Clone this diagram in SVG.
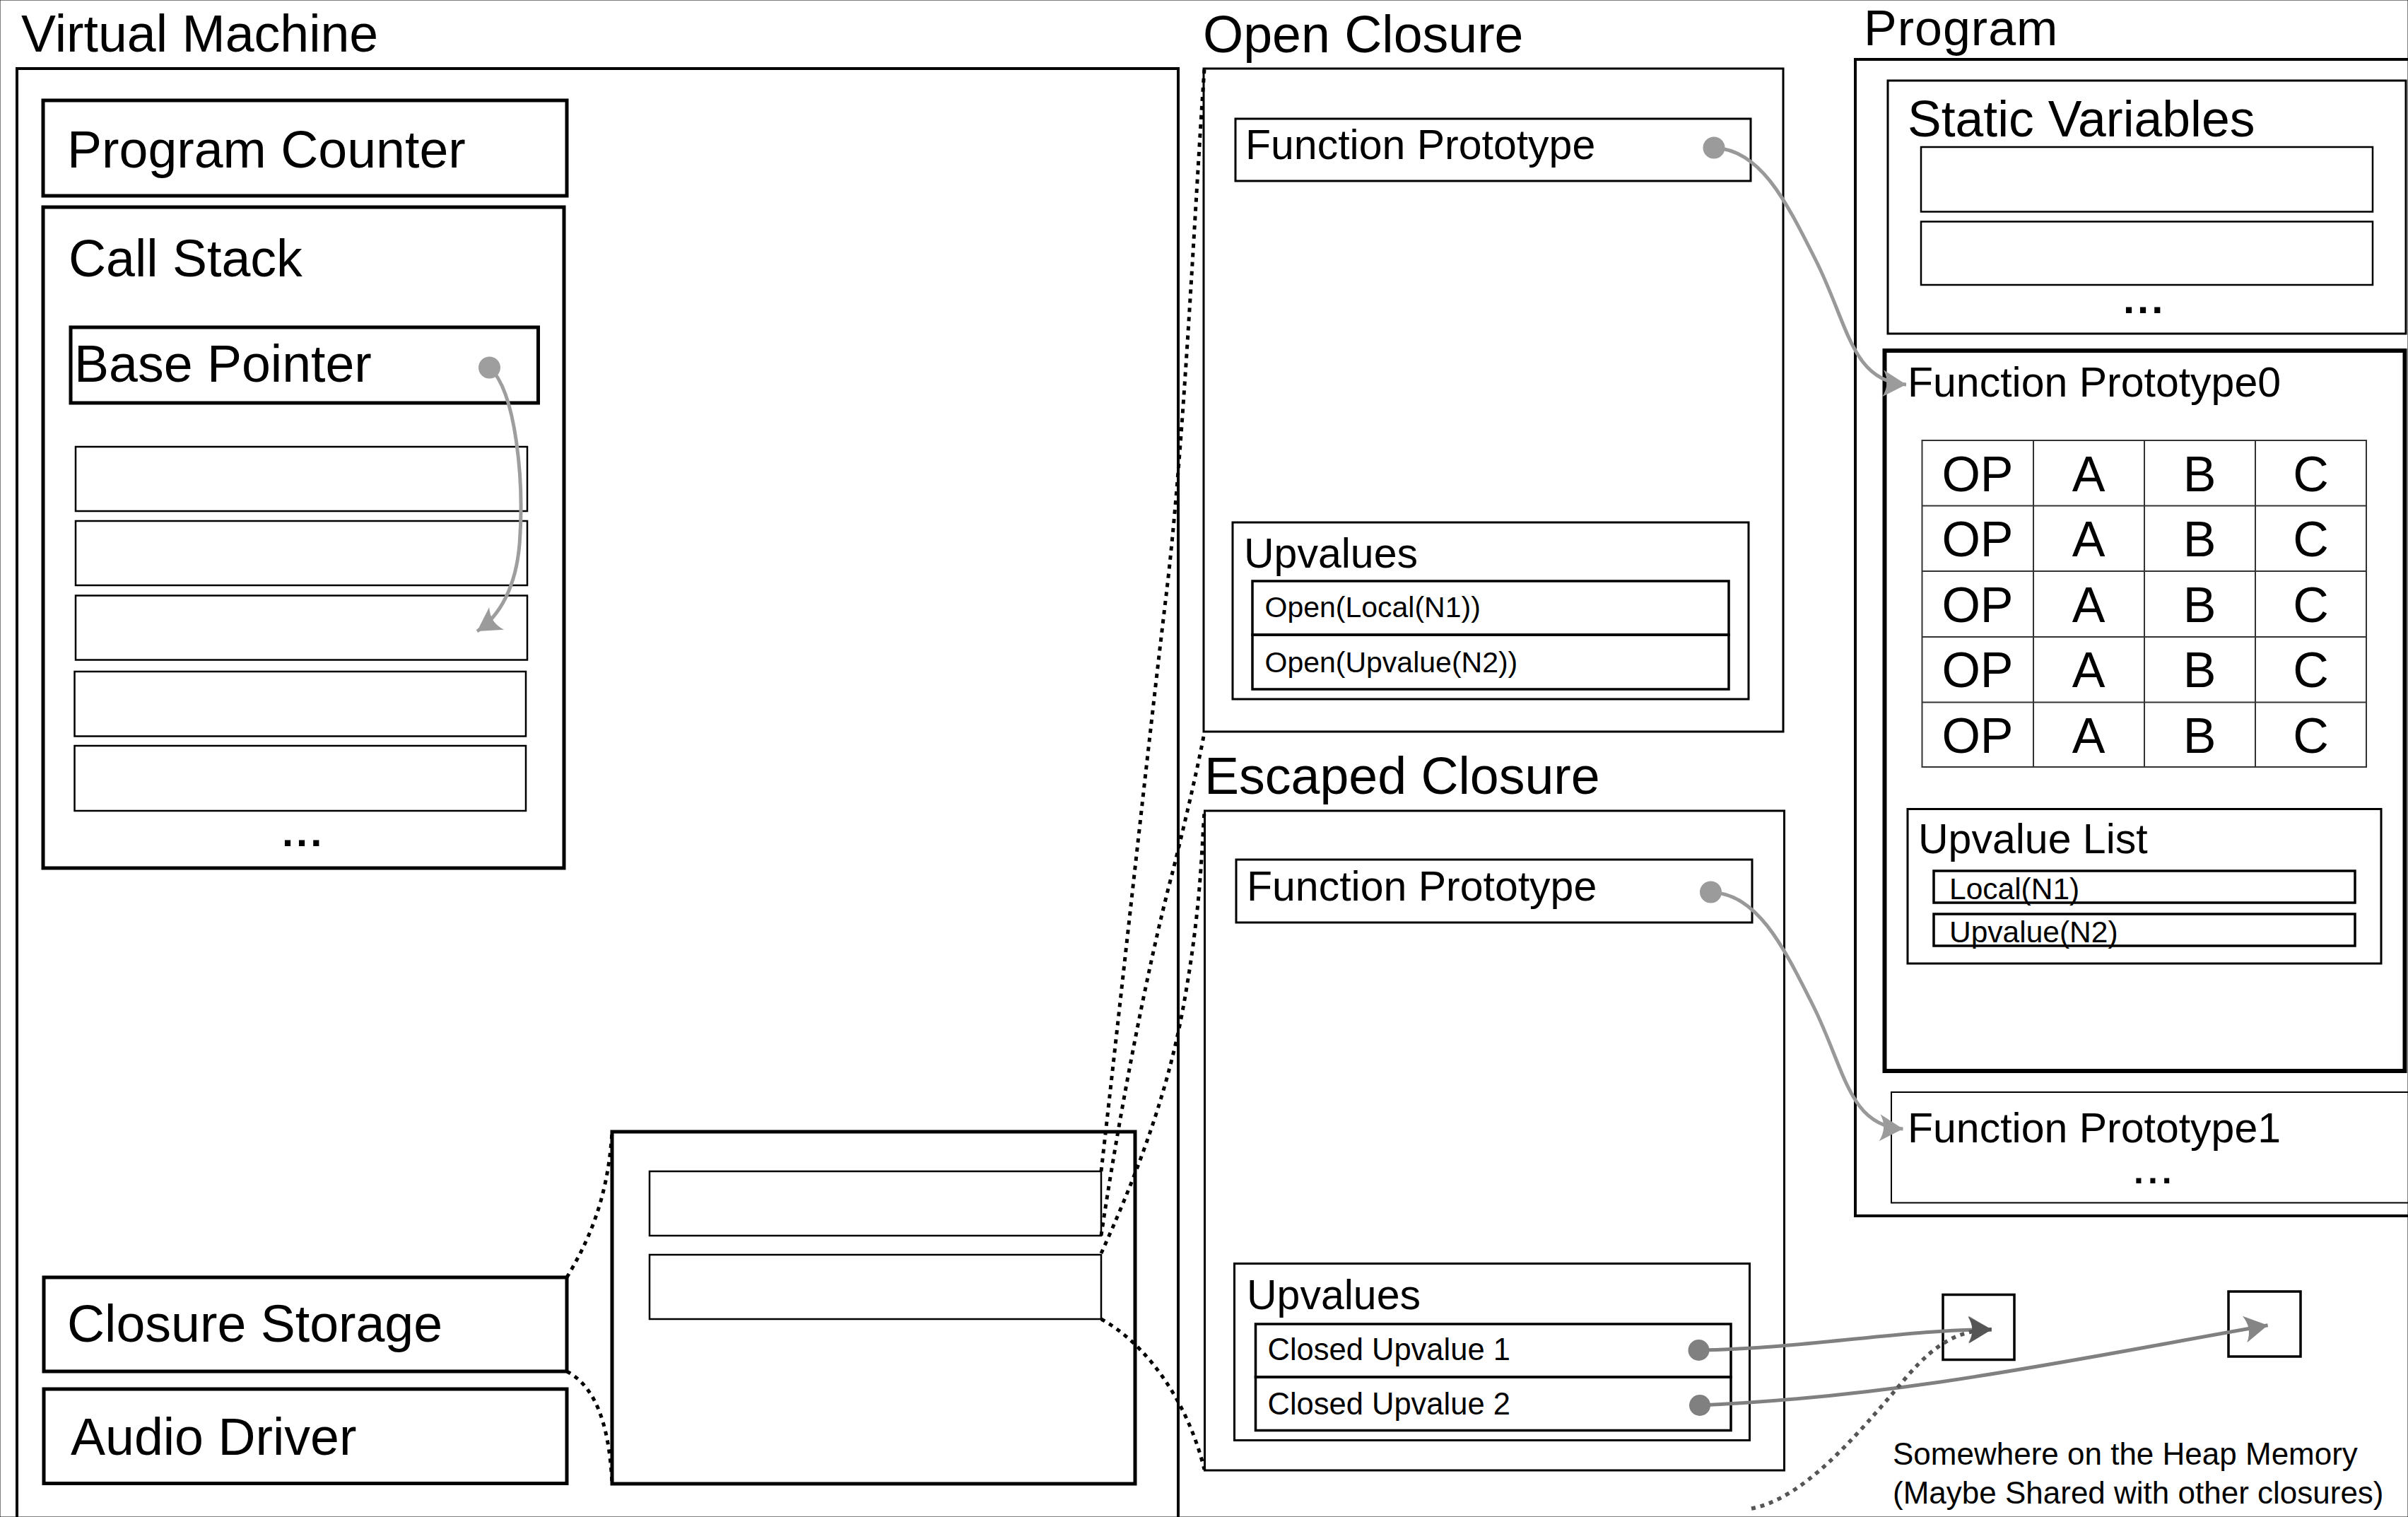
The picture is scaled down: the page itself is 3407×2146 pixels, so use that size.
<svg xmlns="http://www.w3.org/2000/svg" width="3407" height="2146" viewBox="0 0 3407 2146">
  <defs>
    <style>
      text { font-family: "Liberation Sans", Arial, Helvetica, sans-serif; fill: #000; }
      .title { font-size: 73.5px; }
      .label { font-size: 59px; }
      .cell { font-size: 70px; text-anchor: middle; }
      .dots { font-size: 58px; font-weight: bold; letter-spacing: 4px; }
      rect { fill: none; stroke: #000; }
      .s2 { stroke-width: 2; }
      .s25 { stroke-width: 2.5; }
      .s3 { stroke-width: 3; }
      .s35 { stroke-width: 3.5; }
      .s4 { stroke-width: 4; }
      .s5 { stroke-width: 5; }
      .s6 { stroke-width: 6; }
      .grid { stroke: #333; stroke-width: 2; fill: none; }
      .zoom { fill: none; stroke: #000; stroke-width: 5; stroke-dasharray: 6 7; }
      .ptr { fill: none; stroke-width: 5; }
    </style>
    <marker id="ahLight" markerUnits="userSpaceOnUse" viewBox="-40 -25 45 50" refX="0" refY="0" markerWidth="45" markerHeight="50" orient="auto">
      <path d="M0,0 L-33,-19 Q-22,0 -33,19 Z" fill="#9b9b9b"/>
    </marker>
    <marker id="ahMid" markerUnits="userSpaceOnUse" viewBox="-40 -25 45 50" refX="0" refY="0" markerWidth="45" markerHeight="50" orient="auto">
      <path d="M0,0 L-33,-19 Q-22,0 -33,19 Z" fill="#858585"/>
    </marker>
    <marker id="ahDark" markerUnits="userSpaceOnUse" viewBox="-40 -25 45 50" refX="0" refY="0" markerWidth="45" markerHeight="50" orient="auto">
      <path d="M0,0 L-33,-19 Q-22,0 -33,19 Z" fill="#555"/>
    </marker>
  </defs>

  <rect x="0" y="0" width="3407" height="2146" fill="#fff" stroke="none"/>

  <!-- Virtual machine and its parts -->
  <g id="virtual-machine">
    <rect x="24" y="97" width="1643" height="2100" class="s4"/>
    <text x="30" y="73" class="title">Virtual Machine</text>
  </g>
  <g id="program-counter">
    <rect x="61" y="142" width="741" height="135" class="s5"/>
    <text x="95" y="237" class="title">Program Counter</text>
  </g>
  <g id="call-stack">
    <rect x="61" y="293" width="737" height="935" class="s5"/>
    <text x="97" y="391" class="title">Call Stack</text>
    <rect x="107" y="632" width="639" height="91" class="s25"/>
    <rect x="107" y="737" width="639" height="91" class="s25"/>
    <rect x="107" y="842.5" width="639" height="91" class="s25"/>
    <rect x="105.5" y="950" width="638.5" height="91.5" class="s25"/>
    <rect x="105.5" y="1055" width="638.5" height="92" class="s25"/>
    <text x="399" y="1197" class="dots">...</text>
  </g>
  <g id="base-pointer">
    <rect x="100" y="463" width="661.5" height="107" class="s5"/>
    <text x="105" y="540" class="title">Base Pointer</text>
  </g>
  <g id="closure-storage">
    <rect x="62" y="1807" width="740" height="133" class="s5"/>
    <text x="95" y="1898" class="title">Closure Storage</text>
  </g>
  <g id="audio-driver">
    <rect x="62" y="1965" width="740" height="133.5" class="s5"/>
    <text x="100" y="2058" class="title">Audio Driver</text>
  </g>
  <g id="closure-storage-detail">
    <rect x="866" y="1601" width="740" height="498" class="s5"/>
    <rect x="919" y="1657" width="639" height="91" class="s25"/>
    <rect x="919" y="1775" width="639" height="91" class="s25"/>
  </g>

  <!-- Open closure -->
  <g id="open-closure">
    <rect x="1703" y="97" width="820" height="938" class="s3"/>
    <text x="1702" y="74" class="title">Open Closure</text>
    <rect x="1748" y="168" width="729" height="88" class="s3"/>
    <text x="1762" y="224.5" class="label">Function Prototype</text>
    <rect x="1744" y="739" width="730" height="250" class="s3"/>
    <text x="1760" y="803" class="label">Upvalues</text>
    <rect x="1772" y="822" width="674" height="76" class="s35"/>
    <rect x="1772" y="898" width="674" height="77" class="s35"/>
    <text x="1789.5" y="873" font-size="41">Open(Local(N1))</text>
    <text x="1789.5" y="950.5" font-size="41">Open(Upvalue(N2))</text>
  </g>

  <!-- Escaped closure -->
  <g id="escaped-closure">
    <rect x="1704.5" y="1147" width="820" height="933" class="s3"/>
    <text x="1704" y="1123" class="title">Escaped Closure</text>
    <rect x="1749" y="1216" width="730" height="89" class="s3"/>
    <text x="1764" y="1274" class="label">Function Prototype</text>
    <rect x="1746.5" y="1787.5" width="729" height="250" class="s3"/>
    <text x="1764" y="1852" class="label">Upvalues</text>
    <rect x="1776.5" y="1873" width="672.5" height="75" class="s35"/>
    <rect x="1776.5" y="1948" width="672.5" height="75.5" class="s35"/>
    <text x="1793.5" y="1923.7" font-size="43.5">Closed Upvalue 1</text>
    <text x="1793.5" y="2000.6" font-size="43.5">Closed Upvalue 2</text>
  </g>

  <!-- Program -->
  <g id="program">
    <rect x="2625" y="84" width="800" height="1636" class="s4"/>
    <text x="2637" y="64" font-size="70" letter-spacing="1">Program</text>
  </g>
  <g id="static-variables">
    <rect x="2671" y="114" width="733" height="358" class="s3"/>
    <text x="2699" y="193" font-size="71.5">Static Variables</text>
    <rect x="2718" y="208" width="639" height="91.5" class="s25"/>
    <rect x="2718" y="313.5" width="639" height="89.5" class="s25"/>
    <text x="3004" y="443" class="dots">...</text>
  </g>
  <g id="function-prototype-0">
    <rect x="2666.5" y="496" width="736" height="1019" class="s6"/>
    <text x="2699" y="561" class="label">Function Prototype0</text>
    <g id="instruction-table">
      <rect x="2719.5" y="623" width="628.5" height="462" class="grid"/>
      <path class="grid" d="M2877,623V1085 M3034,623V1085 M3191,623V1085 M2719.5,715.5H3348 M2719.5,808H3348 M2719.5,901H3348 M2719.5,993.5H3348"/>
      <text class="cell" x="2798" y="694.5">OP</text><text class="cell" x="2955" y="694.5">A</text><text class="cell" x="3112" y="694.5">B</text><text class="cell" x="3269.5" y="694.5">C</text>
      <text class="cell" x="2798" y="787">OP</text><text class="cell" x="2955" y="787">A</text><text class="cell" x="3112" y="787">B</text><text class="cell" x="3269.5" y="787">C</text>
      <text class="cell" x="2798" y="879.5">OP</text><text class="cell" x="2955" y="879.5">A</text><text class="cell" x="3112" y="879.5">B</text><text class="cell" x="3269.5" y="879.5">C</text>
      <text class="cell" x="2798" y="972">OP</text><text class="cell" x="2955" y="972">A</text><text class="cell" x="3112" y="972">B</text><text class="cell" x="3269.5" y="972">C</text>
      <text class="cell" x="2798" y="1064.5">OP</text><text class="cell" x="2955" y="1064.5">A</text><text class="cell" x="3112" y="1064.5">B</text><text class="cell" x="3269.5" y="1064.5">C</text>
    </g>
    <g id="upvalue-list">
      <rect x="2699" y="1144.5" width="670" height="218.5" class="s3"/>
      <text x="2714" y="1207" class="label">Upvalue List</text>
      <rect x="2736" y="1232" width="596" height="45" class="s35"/>
      <rect x="2736" y="1293" width="596" height="45" class="s35"/>
      <text x="2758" y="1272" font-size="42.5">Local(N1)</text>
      <text x="2758" y="1333" font-size="42.5">Upvalue(N2)</text>
    </g>
  </g>
  <g id="function-prototype-1">
    <rect x="2676" y="1545" width="760" height="156.5" class="s2"/>
    <text x="2699" y="1616" class="label">Function Prototype1</text>
    <text x="3019" y="1674" font-size="50" font-weight="bold" letter-spacing="6">...</text>
  </g>

  <!-- Heap cells -->
  <g id="heap-cell-1">
    <rect x="2749" y="1831.5" width="101" height="92" class="s35"/>
  </g>
  <g id="heap-cell-2">
    <rect x="3153" y="1827" width="102" height="92" class="s35"/>
  </g>
  <g id="heap-note">
    <text x="2678" y="2072" font-size="44">Somewhere on the Heap Memory</text>
    <text x="2678" y="2127" font-size="44">(Maybe Shared with other closures)</text>
  </g>

  <!-- Connectors -->
  <g id="connectors">
    <!-- expansion guides -->
    <path class="zoom" d="M802,1807 C830,1760 860,1700 866,1601"/>
    <path class="zoom" d="M802,1940 C840,1960 862,2010 866,2099"/>
    <path class="zoom" d="M1558,1657 C1585,1420 1625,1050 1650,842 S1690,300 1704,98"/>
    <path class="zoom" d="M1558,1748 C1580,1600 1620,1380 1660,1230 C1680,1150 1698,1070 1704,1036"/>
    <path class="zoom" d="M1558,1773 C1600,1680 1650,1560 1675,1420 S1700,1200 1704,1149"/>
    <path class="zoom" d="M1558,1866 C1620,1900 1680,1980 1704,2079"/>

    <!-- base pointer into the stack -->
    <path class="ptr" stroke="#9e9e9e" d="M693,520 C730,555 742,680 735,770 C730,830 707,872 675,893" marker-end="url(#ahLight)"/>
    <circle cx="692.5" cy="520" r="15.5" fill="#9e9e9e"/>

    <!-- closures to their prototypes -->
    <path class="ptr" stroke="#999" d="M2425,209 C2490,212 2525,280 2570,370 S2620,540 2697,544" marker-end="url(#ahLight)"/>
    <circle cx="2425" cy="209" r="15.5" fill="#9b9b9b"/>
    <path class="ptr" stroke="#999" d="M2420.5,1262 C2485.5,1265 2520.5,1333 2565.5,1423 S2615.5,1593 2692.5,1597" marker-end="url(#ahLight)"/>
    <circle cx="2420.5" cy="1262" r="15.5" fill="#9b9b9b"/>

    <!-- closed upvalues to heap cells -->
    <path class="ptr" stroke="#808080" d="M2403,1910 C2550,1908 2700,1880 2818,1880.7" marker-end="url(#ahMid)"/>
    <path class="ptr" stroke="#808080" d="M2405,1988 C2700,1975 2950,1920 3208.6,1874.8" marker-end="url(#ahMid)"/>
    <circle cx="2403.5" cy="1910" r="15" fill="#808080"/>
    <circle cx="2405" cy="1988" r="15" fill="#808080"/>

    <!-- shared reference from elsewhere -->
    <path fill="none" stroke="#555" stroke-width="5.5" stroke-dasharray="6 7" d="M2478,2134 C2550,2120 2620,2040 2700,1945 C2740,1900 2770,1882 2818,1880.7" marker-end="url(#ahDark)"/>
  </g>
</svg>
